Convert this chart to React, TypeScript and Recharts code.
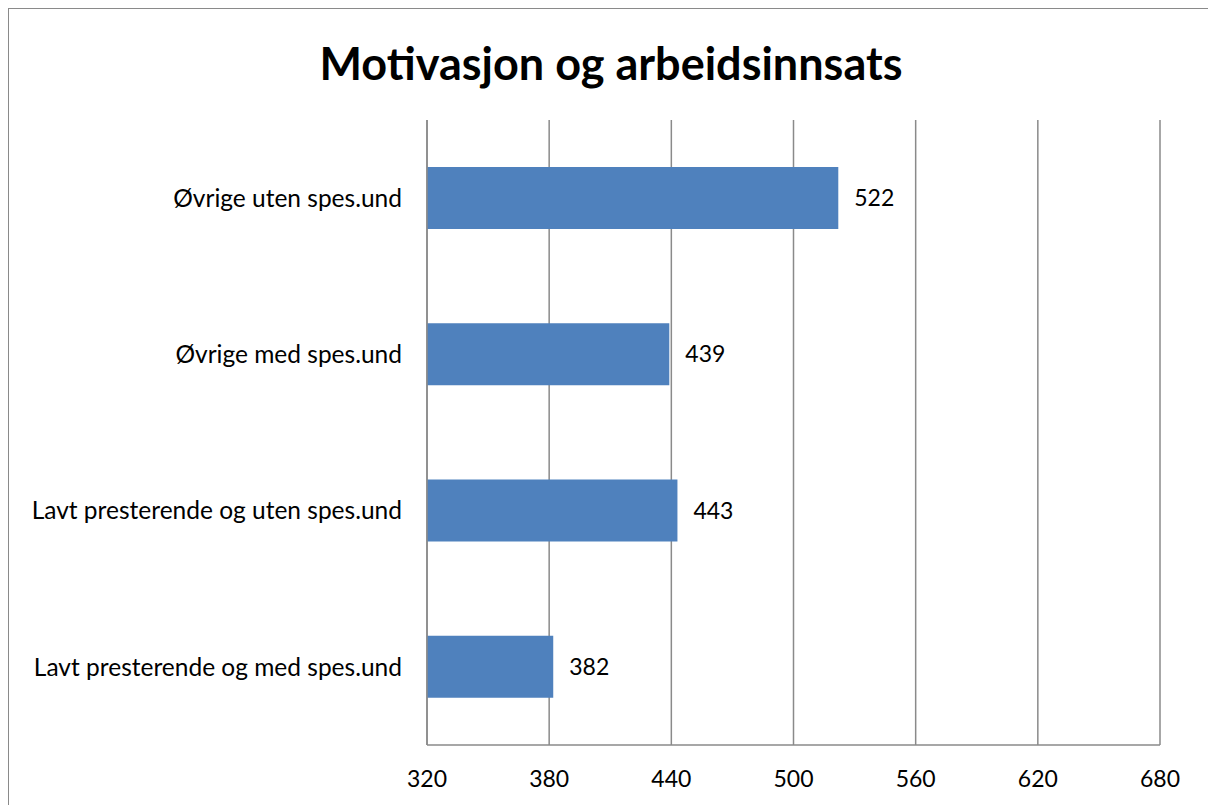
import { BarChart, Bar, XAxis, YAxis, CartesianGrid, LabelList } from "recharts";

const categories = [
  "Øvrige uten spes.und",
  "Øvrige med spes.und",
  "Lavt presterende og uten spes.und",
  "Lavt presterende og med spes.und",
];
const scores = [522, 439, 443, 382];
const xTicks = [320, 380, 440, 500, 560, 620, 680];

const BLUE = "#4f81bd";
const GRID = "#8a8a8a";
const FONT = "Lato, 'Open Sans', sans-serif";

const data = categories.map((name, i) => ({ name, value: scores[i] }));

export default function App() {
  return (
    <div
      style={{
        position: "relative",
        width: 1200,
        height: 796,
        borderLeft: `1px solid ${GRID}`,
        borderTop: `1px solid ${GRID}`,
        background: "#fff",
        fontFamily: FONT,
      }}
    >
      <style>{"html, body { overflow: hidden; } body { margin: 8px 0 0 8px; }"}</style>
      <div
        style={{
          position: "absolute",
          left: 0,
          width: 1204,
          top: 24,
          textAlign: "center",
          fontSize: 45,
          fontWeight: 700,
          color: "#000",
          lineHeight: "60px",
        }}
      >
        Motivasjon og arbeidsinnsats
      </div>
      <BarChart
        width={1199}
        height={796}
        data={data}
        layout="vertical"
        margin={{ top: 111, right: 48, left: 0, bottom: 0 }}
        barSize={62}
      >
        <CartesianGrid horizontal={false} stroke={GRID} strokeWidth={1.5} />
        <XAxis
          type="number"
          domain={[320, 680]}
          ticks={xTicks}
          allowDataOverflow
          height={60}
          tickLine={false}
          tickSize={0}
          tickMargin={26}
          axisLine={{ stroke: GRID, strokeWidth: 1.5 }}
          tick={{ fill: "#000", fontSize: 23, fontFamily: FONT }}
        />
        <YAxis
          type="category"
          dataKey="name"
          width={418}
          tickLine={false}
          tickSize={0}
          tickMargin={25}
          axisLine={{ stroke: GRID, strokeWidth: 1.5 }}
          tick={{ fill: "#000", fontSize: 24.5, fontFamily: FONT }}
        />
        <Bar dataKey="value" fill={BLUE} isAnimationActive={false}>
          <LabelList
            dataKey="value"
            position="right"
            offset={16}
            fill="#000"
            fontSize={23}
            fontFamily={FONT}
          />
        </Bar>
      </BarChart>
    </div>
  );
}
